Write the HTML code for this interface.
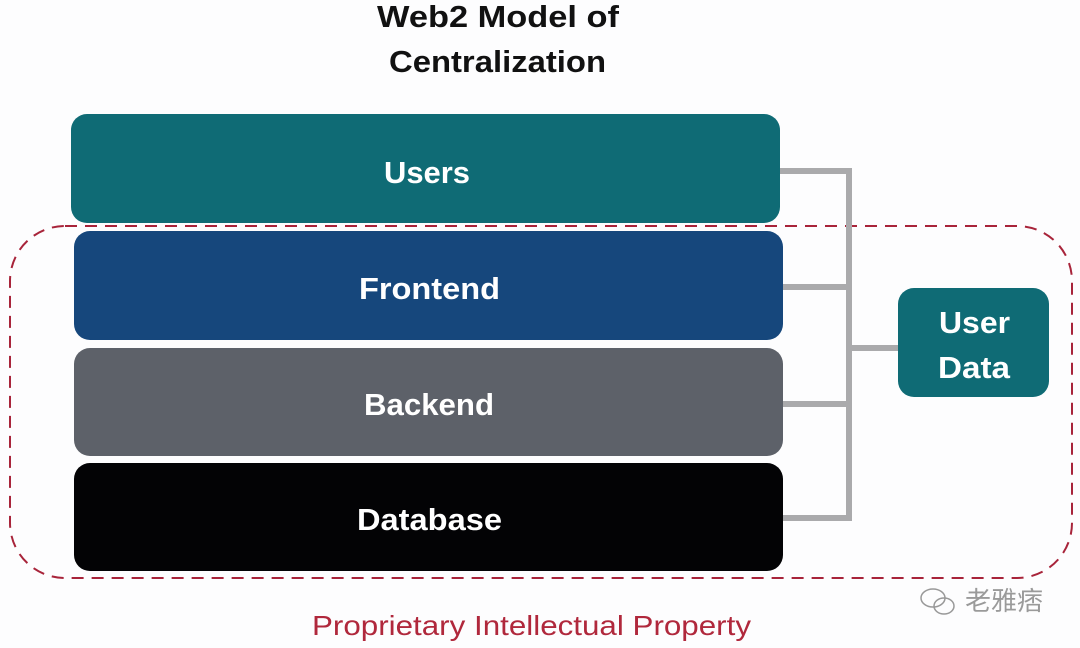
<!DOCTYPE html>
<html><head><meta charset="utf-8"><style>
html,body{margin:0;padding:0;background:#fdfdfe;}
svg{display:block;}
text{font-family:"Liberation Sans",sans-serif;font-weight:bold;}
</style></head><body>
<svg width="1080" height="648" viewBox="0 0 1080 648" xmlns="http://www.w3.org/2000/svg">
<rect width="1080" height="648" fill="#fdfdfe"/>
<text x="377" y="27" font-size="31" fill="#111" textLength="242" lengthAdjust="spacingAndGlyphs">Web2 Model of</text>
<text x="389" y="72" font-size="31" fill="#111" textLength="217" lengthAdjust="spacingAndGlyphs">Centralization</text>

<rect x="10" y="226" width="1062" height="352" rx="55" fill="none" stroke="#a8243a" stroke-width="2" stroke-dasharray="12,8"/>

<g stroke="#aaaaac" stroke-width="6" fill="none">
<line x1="780" y1="171" x2="852" y2="171"/>
<line x1="783" y1="287" x2="852" y2="287"/>
<line x1="783" y1="404" x2="852" y2="404"/>
<line x1="783" y1="518" x2="852" y2="518"/>
<line x1="849" y1="168" x2="849" y2="521"/>
<line x1="849" y1="348" x2="900" y2="348"/>
</g>

<rect x="71" y="114" width="709" height="109" rx="16" fill="#0f6b75"/>
<rect x="74" y="231" width="709" height="109" rx="16" fill="#16477c"/>
<rect x="74" y="348" width="709" height="108" rx="16" fill="#5d6169"/>
<rect x="74" y="463" width="709" height="108" rx="16" fill="#030305"/>
<rect x="898" y="288" width="151" height="109" rx="16" fill="#0f6b75"/>

<g fill="#ffffff" font-size="31">
<text x="384" y="183" textLength="86" lengthAdjust="spacingAndGlyphs">Users</text>
<text x="359" y="299" textLength="141" lengthAdjust="spacingAndGlyphs">Frontend</text>
<text x="364" y="415" textLength="130" lengthAdjust="spacingAndGlyphs">Backend</text>
<text x="357" y="530" textLength="145" lengthAdjust="spacingAndGlyphs">Database</text>
<text x="939" y="333" textLength="71" lengthAdjust="spacingAndGlyphs">User</text>
<text x="938" y="378" textLength="72" lengthAdjust="spacingAndGlyphs">Data</text>
</g>

<text x="312" y="635" font-size="28" font-weight="normal" style="font-weight:normal" fill="#b0283c" textLength="439" lengthAdjust="spacingAndGlyphs">Proprietary Intellectual Property</text>

<g stroke="#999" stroke-width="1.5" fill="none">
<ellipse cx="933" cy="598" rx="12" ry="9"/>
<ellipse cx="944" cy="606" rx="10" ry="8"/>
</g>
<text x="965" y="610" font-size="26" font-weight="normal" style="font-weight:normal;font-family:'Liberation Sans','Noto Sans CJK SC',sans-serif" fill="#9a9a9a">老雅痞</text>
</svg>
</body></html>
